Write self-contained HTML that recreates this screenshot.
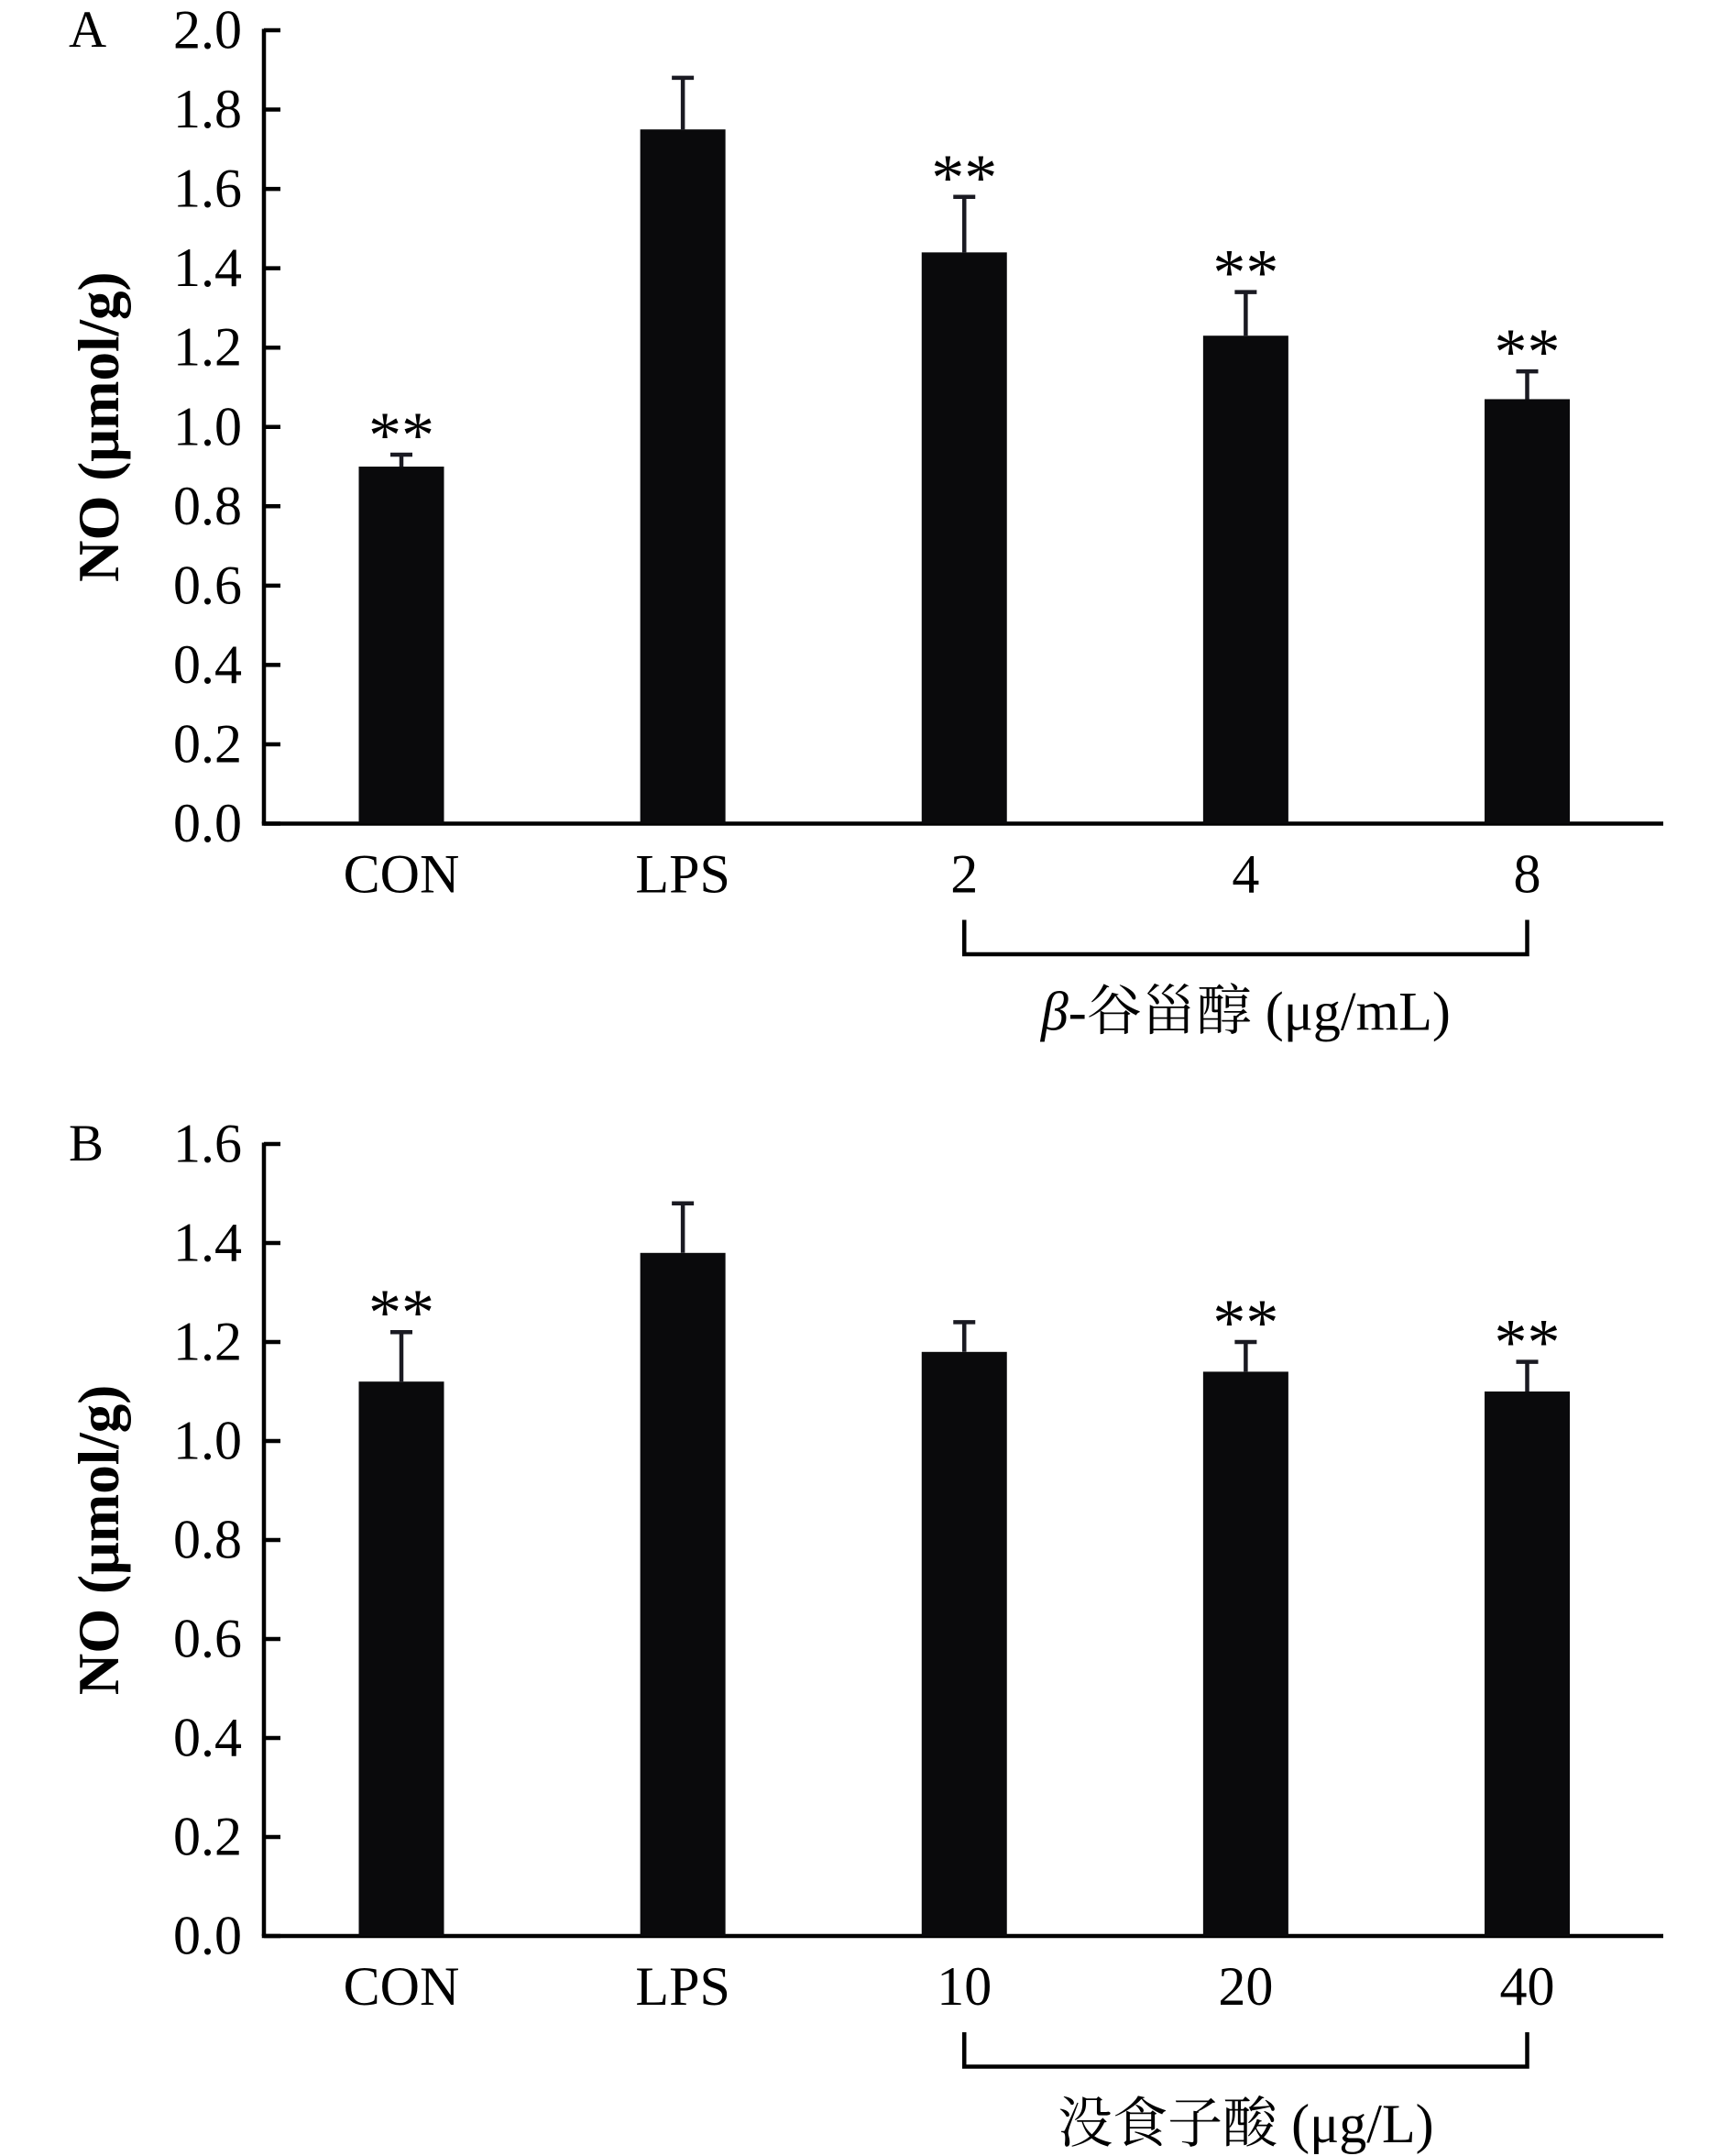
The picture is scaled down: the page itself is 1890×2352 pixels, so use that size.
<!DOCTYPE html>
<html><head><meta charset="utf-8"><style>
html,body{margin:0;padding:0;background:#fff;}
svg{display:block;}
text{font-family:"Liberation Serif","Noto Serif CJK SC","Noto Sans CJK SC",serif;fill:#000;}
</style></head><body>
<svg id="fig" width="1890" height="2352" viewBox="0 0 1260 1568" preserveAspectRatio="none" xmlns="http://www.w3.org/2000/svg"></svg>
<script>
// Panel A data
const catsA = ["CON","LPS","2","4","8"];
const valsA = [0.90, 1.75, 1.44, 1.23, 1.07];
const errA = [0.03, 0.13, 0.14, 0.11, 0.07];
const sigA = ["**","","**","**","**"];
const ticksA = [0.0,0.2,0.4,0.6,0.8,1.0,1.2,1.4,1.6,1.8,2.0];
// Panel B data
const catsB = ["CON","LPS","10","20","40"];
const valsB = [1.12, 1.38, 1.18, 1.14, 1.10];
const errB = [0.10, 0.10, 0.06, 0.06, 0.06];
const sigB = ["**","","","**","**"];
const ticksB = [0.0,0.2,0.4,0.6,0.8,1.0,1.2,1.4,1.6];

const NS="http://www.w3.org/2000/svg";
const svg=document.getElementById('fig');
function mk(tag,attrs,parent){const e=document.createElementNS(NS,tag);for(const k in attrs)e.setAttribute(k,attrs[k]);(parent||svg).appendChild(e);return e;}

function panel(p){
  const g=mk('g',{});
  
  
  const x0=192,x1=1210,y0=p.yBottom,yT=p.yTop,max=p.max;
  const y=v=>y0-(v/max)*(y0-yT);
  const cx=i=>292+i*204.75;
  const bw=62;
  const pl=mk('text',{x:50,y:yT+12,'font-size':38},g);pl.textContent=p.id;
  
  
  const ax=mk('line',{x1:x0,y1:yT-1,x2:x0,y2:y0,stroke:'#000','stroke-width':3},g);
  
  
  const bx=mk('line',{x1:x0-1.5,y1:y0,x2:x1,y2:y0,stroke:'#000','stroke-width':3},g);
  
  
  p.ticks.forEach(t=>{
    const tk=mk('line',{x1:x0,y1:y(t),x2:x0+12,y2:y(t),stroke:'#000','stroke-width':3},g);
    
    
    const tl=mk('text',{x:176,y:y(t)+13,'font-size':40,'text-anchor':'end'},g);tl.textContent=t.toFixed(1);
    
    
  });
  const yt=mk('text',{transform:`translate(86,${(yT+y0)/2}) rotate(-90)`,'font-size':42,'text-anchor':'middle','font-weight':'bold'},g);
  yt.textContent='NO (μmol/g)';
  
  
  p.cats.forEach((c,i)=>{
    const v=p.vals[i],e=p.err[i];
    const r=mk('rect',{x:cx(i)-bw/2,y:y(v),width:bw,height:y0-y(v),fill:'#0a0a0c'},g);
    
    
    const el=mk('path',{d:`M${cx(i)} ${y(v)} V${y(v+e)} M${cx(i)-8} ${y(v+e)} H${cx(i)+8}`,stroke:'#1a1a22','stroke-width':3,fill:'none'},g);
    
    
    if(p.sig[i]){
      const s=mk('text',{x:cx(i),y:y(v+e)+2,'font-size':48,'text-anchor':'middle'},g);s.textContent=p.sig[i];
      
      
    }
    const cl=mk('text',{x:cx(i),y:y0+50,'font-size':40,'text-anchor':'middle'},g);cl.textContent=c;
    
    
  });
  const by=y0+70,bb=y0+95;
  const br=mk('path',{d:`M${cx(2)} ${by} V${bb} H${cx(4)} V${by}`,stroke:'#000','stroke-width':3,fill:'none'},g);
  
  
  const gt=mk('text',{x:(cx(2)+cx(4))/2,y:y0+150,'font-size':40,'text-anchor':'middle'},g);
  gt.innerHTML=p.title;
  
  
}
panel({id:'A',yTop:22,yBottom:599,max:2.0,cats:catsA,vals:valsA,err:errA,sig:sigA,ticks:ticksA,title:'<tspan font-style="italic">β</tspan>-谷甾醇 (μg/mL)'});
panel({id:'B',yTop:832,yBottom:1408,max:1.6,cats:catsB,vals:valsB,err:errB,sig:sigB,ticks:ticksB,title:'没食子酸 (μg/L)'});
</script>
</body></html>
